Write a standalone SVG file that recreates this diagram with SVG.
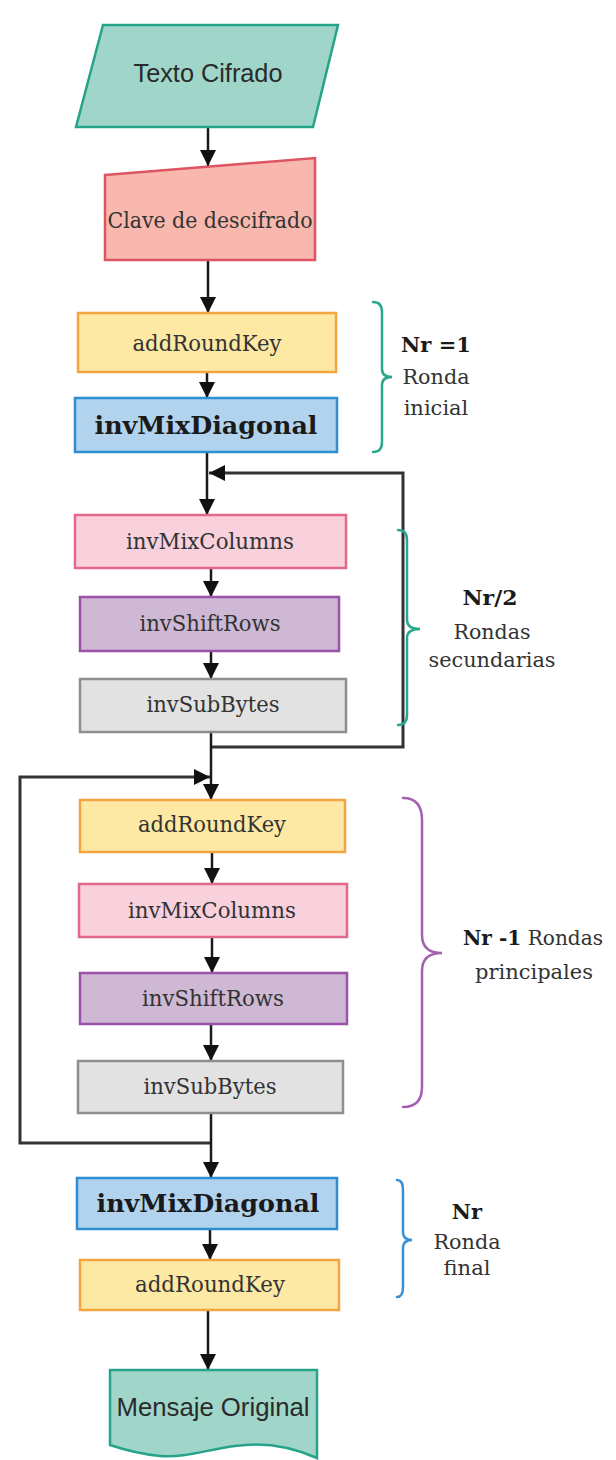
<svg xmlns="http://www.w3.org/2000/svg" width="616" height="1460" viewBox="0 0 616 1460">
<style>
.box{stroke-width:2.5}
.yel{fill:#fde9a4;stroke:#f4a441}
.blu{fill:#b1d3ee;stroke:#2f8dd2}
.pnk{fill:#f8d1dd;stroke:#e2688c}
.pur{fill:#ceb8d4;stroke:#9a52aa}
.gry{fill:#e2e2e2;stroke:#8e8e8e}
.lbl{font-family:"DejaVu Serif","Liberation Serif",serif;font-size:22px;fill:#333;text-anchor:middle}
.side{font-size:21px}
.bold{font-weight:bold;fill:#1a1a1a}
.big{font-size:25px}
.sans{font-family:"Liberation Sans",Arial,sans-serif;font-size:25px;fill:#2a2a2a;text-anchor:middle}
.conn{fill:none;stroke:#1a1a1a;stroke-width:2.5}
.loop{fill:none;stroke:#333;stroke-width:3}
.brk{fill:none;stroke-width:2.5;stroke-linecap:round}
</style>
<defs>
<marker id="ah" markerUnits="userSpaceOnUse" markerWidth="18" markerHeight="18" refX="16" refY="8" orient="auto">
<path d="M0,0 L16,8 L0,16 Z" fill="#111"/>
</marker>
</defs>

<g id="connectors">
<line class="conn" x1="208" y1="127" x2="208" y2="166" marker-end="url(#ah)"/>
<line class="conn" x1="208" y1="260" x2="208" y2="313" marker-end="url(#ah)"/>
<line class="conn" x1="207" y1="372" x2="207" y2="398" marker-end="url(#ah)"/>
<line class="conn" x1="207" y1="452" x2="207" y2="515" marker-end="url(#ah)"/>
<polyline class="loop" points="211,747 403,747 403,473 209,473" marker-end="url(#ah)"/>
<line class="conn" x1="211" y1="568" x2="211" y2="597" marker-end="url(#ah)"/>
<line class="conn" x1="211" y1="651" x2="211" y2="679" marker-end="url(#ah)"/>
<line class="conn" x1="211" y1="732" x2="211" y2="800" marker-end="url(#ah)"/>
<polyline class="loop" points="211,1143 20,1143 20,777 210,777" marker-end="url(#ah)"/>
<line class="conn" x1="212" y1="852" x2="212" y2="884" marker-end="url(#ah)"/>
<line class="conn" x1="212" y1="937" x2="212" y2="973" marker-end="url(#ah)"/>
<line class="conn" x1="211" y1="1024" x2="211" y2="1061" marker-end="url(#ah)"/>
<line class="conn" x1="211" y1="1113" x2="211" y2="1178" marker-end="url(#ah)"/>
<line class="conn" x1="210" y1="1229" x2="210" y2="1260" marker-end="url(#ah)"/>
<line class="conn" x1="208" y1="1310" x2="208" y2="1370" marker-end="url(#ah)"/>
</g>

<g id="texto-cifrado">
<polygon points="103,25 338,25 313,127 76,127" fill="#9fd6c9" stroke="#26a388" stroke-width="2.5"/>
<text class="sans" x="208" y="82" textLength="149" lengthAdjust="spacingAndGlyphs">Texto Cifrado</text>
</g>

<g id="clave">
<polygon points="105,175 315,158 315,260 105,260" fill="#f8b8ae" stroke="#dc5560" stroke-width="2.5"/>
<text class="lbl" x="210" y="228" textLength="205" lengthAdjust="spacingAndGlyphs" style="font-size:23px">Clave de descifrado</text>
</g>

<g id="addroundkey-1">
<rect class="box yel" x="78" y="313" width="258" height="59"/>
<text class="lbl" x="207" y="351" textLength="149" lengthAdjust="spacingAndGlyphs">addRoundKey</text>
</g>

<g id="invmixdiagonal-1">
<rect class="box blu" x="75" y="398" width="262" height="54"/>
<text class="lbl bold big" x="206" y="434" textLength="223" lengthAdjust="spacingAndGlyphs">invMixDiagonal</text>
</g>

<g id="invmixcolumns-1">
<rect class="box pnk" x="75" y="515" width="271" height="53"/>
<text class="lbl" x="210" y="549" textLength="168" lengthAdjust="spacingAndGlyphs">invMixColumns</text>
</g>

<g id="invshiftrows-1">
<rect class="box pur" x="80" y="597" width="259" height="54"/>
<text class="lbl" x="210" y="631" textLength="141" lengthAdjust="spacingAndGlyphs">invShiftRows</text>
</g>

<g id="invsubbytes-1">
<rect class="box gry" x="80" y="679" width="266" height="53"/>
<text class="lbl" x="213" y="712" textLength="133" lengthAdjust="spacingAndGlyphs">invSubBytes</text>
</g>

<g id="addroundkey-2">
<rect class="box yel" x="80" y="800" width="265" height="52"/>
<text class="lbl" x="212" y="832" textLength="148" lengthAdjust="spacingAndGlyphs">addRoundKey</text>
</g>

<g id="invmixcolumns-2">
<rect class="box pnk" x="79" y="884" width="268" height="53"/>
<text class="lbl" x="212" y="918" textLength="168" lengthAdjust="spacingAndGlyphs">invMixColumns</text>
</g>

<g id="invshiftrows-2">
<rect class="box pur" x="80" y="973" width="267" height="51"/>
<text class="lbl" x="213" y="1006" textLength="142" lengthAdjust="spacingAndGlyphs">invShiftRows</text>
</g>

<g id="invsubbytes-2">
<rect class="box gry" x="78" y="1061" width="265" height="52"/>
<text class="lbl" x="210" y="1094" textLength="133" lengthAdjust="spacingAndGlyphs">invSubBytes</text>
</g>

<g id="invmixdiagonal-2">
<rect class="box blu" x="77" y="1178" width="260" height="51"/>
<text class="lbl bold big" x="208" y="1212" textLength="223" lengthAdjust="spacingAndGlyphs">invMixDiagonal</text>
</g>

<g id="addroundkey-3">
<rect class="box yel" x="80" y="1260" width="259" height="50"/>
<text class="lbl" x="210" y="1292" textLength="150" lengthAdjust="spacingAndGlyphs">addRoundKey</text>
</g>

<g id="mensaje-original">
<path d="M110,1370 H317 V1458 C290,1446 262,1442 235,1446 C205,1450 185,1458 160,1456 C140,1454 125,1450 110,1445 Z" fill="#9fd6c9" stroke="#26a388" stroke-width="2.5"/>
<text class="sans" x="213" y="1416" textLength="193" lengthAdjust="spacingAndGlyphs">Mensaje Original</text>
</g>

<g id="ronda-inicial">
<path class="brk" stroke="#2aa88c" d="M373,302 Q382,302 382,312 L382,369 Q382,377 392,377 Q382,377 382,385 L382,442 Q382,452 373,452"/>
<text class="lbl side bold" x="436" y="352">Nr =1</text>
<text class="lbl side" x="436" y="384" textLength="67" lengthAdjust="spacingAndGlyphs">Ronda</text>
<text class="lbl side" x="436" y="415">inicial</text>
</g>

<g id="rondas-secundarias">
<path class="brk" stroke="#2aa88c" d="M398,530 Q407,530 407,540 L407,620 Q407,629 420,629 Q407,629 407,638 L407,715 Q407,725 398,725"/>
<text class="lbl side bold" x="490" y="605" textLength="55" lengthAdjust="spacingAndGlyphs">Nr/2</text>
<text class="lbl side" x="492" y="639" textLength="77" lengthAdjust="spacingAndGlyphs">Rondas</text>
<text class="lbl side" x="492" y="667" textLength="127" lengthAdjust="spacingAndGlyphs">secundarias</text>
</g>

<g id="rondas-principales">
<path class="brk" stroke="#a560b2" d="M403,798 Q422,798 422,820 L422,935 Q422,953 442,953 Q422,953 422,971 L422,1087 Q422,1107 403,1107"/>
<text class="lbl side" x="533" y="945" textLength="140" lengthAdjust="spacingAndGlyphs"><tspan class="bold">Nr -1</tspan> Rondas</text>
<text class="lbl side" x="534" y="979" textLength="118" lengthAdjust="spacingAndGlyphs">principales</text>
</g>

<g id="ronda-final">
<path class="brk" stroke="#3a90d2" d="M397,1180 Q403,1180 403,1190 L403,1232 Q403,1240 412,1240 Q403,1240 403,1248 L403,1287 Q403,1297 397,1297"/>
<text class="lbl side bold" x="467" y="1219">Nr</text>
<text class="lbl side" x="467" y="1249" textLength="67" lengthAdjust="spacingAndGlyphs">Ronda</text>
<text class="lbl side" x="467" y="1275">final</text>
</g>
</svg>
